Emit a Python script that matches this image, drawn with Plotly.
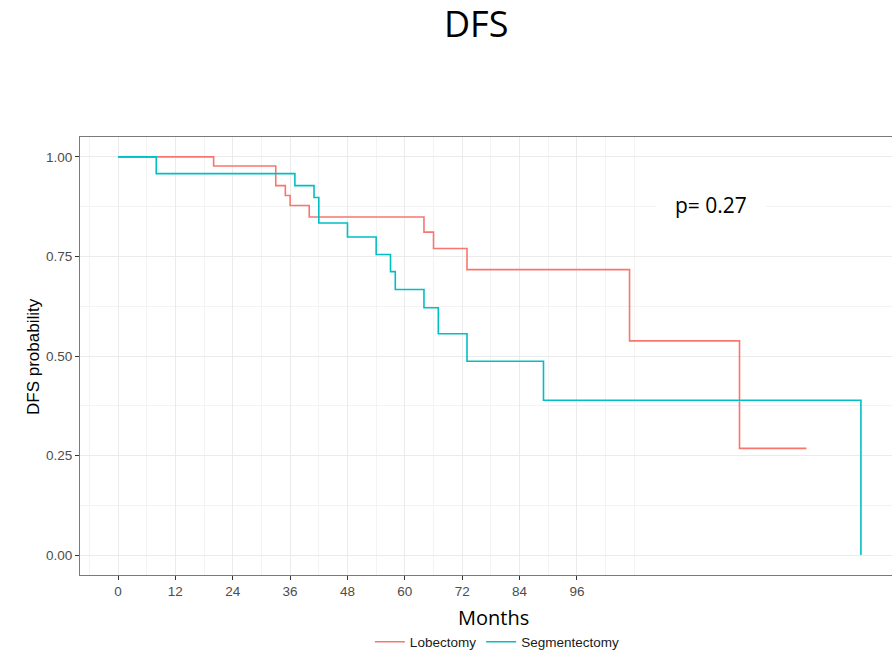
import plotly.graph_objects as go

# Kaplan-Meier step data (months, DFS probability)
lobe_time = [0, 20, 33, 35, 36, 40, 64, 66, 73, 107, 130, 144]
lobe_surv = [1.0, 0.977, 0.928, 0.903, 0.878, 0.849, 0.811, 0.770, 0.717, 0.538, 0.268, 0.268]

seg_time = [0, 8, 37, 41, 42, 48, 54, 57, 58, 64, 67, 73, 89, 155.4]
seg_surv = [1.0, 0.958, 0.928, 0.898, 0.834, 0.799, 0.755, 0.712, 0.667, 0.621, 0.556, 0.487, 0.389, 0.0]

x_ticks = [0, 12, 24, 36, 48, 60, 72, 84, 96]
x_minor = [-6, 6, 18, 30, 42, 54, 66, 78, 90, 102, 108]
y_ticks = [0.0, 0.25, 0.5, 0.75, 1.0]
y_tick_text = ["0.00", "0.25", "0.50", "0.75", "1.00"]
y_minor = [0.125, 0.375, 0.625, 0.875]

fig = go.Figure()
fig.add_trace(go.Scatter(x=lobe_time, y=lobe_surv, mode="lines", name="Lobectomy",
                         line=dict(color="#F8766D", width=1.6, shape="hv")))
fig.add_trace(go.Scatter(x=seg_time, y=seg_surv, mode="lines", name="Segmentectomy",
                         line=dict(color="#00BFC4", width=1.6, shape="hv")))

tick_font = dict(family="Liberation Sans, Arial, sans-serif", size=13.5, color="#4D4D4D")

fig.update_layout(
    width=892, height=653,
    margin=dict(l=80, r=0, t=137, b=78, autoexpand=False),
    paper_bgcolor="white", plot_bgcolor="white",
    showlegend=True,
    legend=dict(orientation="h", x=0.514, xanchor="center", y=-0.153, yanchor="middle",
                itemwidth=30,
                font=dict(family="Liberation Sans, Arial, sans-serif", size=13.5, color="#1A1A1A"),
                bgcolor="rgba(0,0,0,0)"),
    xaxis=dict(range=[-7.95, 161.9], tickmode="array", tickvals=x_ticks,
               ticks="outside", ticklen=4, tickwidth=1, tickcolor="#333333",
               tickfont=tick_font, showline=True, linecolor="#7A7A7A", linewidth=1, mirror=True,
               showgrid=True, gridcolor="#EBEBEB", gridwidth=1.1, zeroline=False,
               minor=dict(tickmode="array", tickvals=x_minor, showgrid=True,
                          gridcolor="#F3F3F3", gridwidth=0.8, ticks="")),
    yaxis=dict(range=[-0.05, 1.05], tickmode="array", tickvals=y_ticks, ticktext=y_tick_text,
               ticks="outside", ticklen=4, tickwidth=1, tickcolor="#333333",
               tickfont=tick_font, showline=True, linecolor="#7A7A7A", linewidth=1, mirror=False,
               showgrid=True, gridcolor="#EBEBEB", gridwidth=1.1, zeroline=False,
               minor=dict(tickmode="array", tickvals=y_minor, showgrid=True,
                          gridcolor="#F3F3F3", gridwidth=0.8, ticks="")),
    annotations=[
        dict(text="DFS", xref="paper", yref="paper", x=0.4877, y=1.258,
             xanchor="center", yanchor="middle", showarrow=False,
             font=dict(family="Open Sans, sans-serif", size=36, color="#000000")),
        dict(text="Months", xref="paper", yref="paper", x=0.5095, y=-0.096,
             xanchor="center", yanchor="middle", showarrow=False,
             font=dict(family="Open Sans, sans-serif", size=20, color="#000000")),
        dict(text="DFS probability", xref="paper", yref="paper", x=-0.0579, y=0.5,
             xanchor="center", yanchor="middle", showarrow=False, textangle=-90,
             font=dict(family="Liberation Sans, Arial, sans-serif", size=17, color="#000000")),
        dict(text="p= 0.27", xref="x", yref="y", x=124, y=0.878,
             xanchor="center", yanchor="middle", showarrow=False,
             bgcolor="white", borderpad=18,
             font=dict(family="Open Sans, sans-serif", size=21, color="#000000")),
    ],
)

fig.write_html("out.html", config={"displayModeBar": False},
               post_script="document.body.style.margin='0';document.body.style.padding='0';")
